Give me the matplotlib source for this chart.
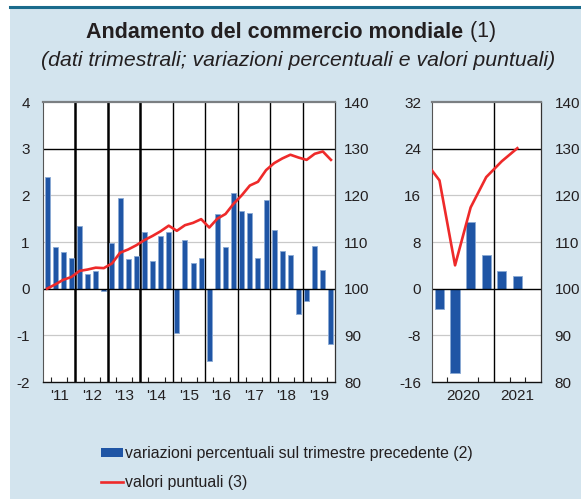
import matplotlib
matplotlib.use("Agg")
import matplotlib.pyplot as plt
from matplotlib.patches import Rectangle, Patch
from matplotlib.lines import Line2D
import numpy as np

plt.rcParams['font.family'] = ['Liberation Sans', 'DejaVu Sans']
plt.rcParams['axes.unicode_minus'] = False

# ---------------- data ----------------
years_left = [2011, 2012, 2013, 2014, 2015, 2016, 2017, 2018, 2019]
year_labels_left = ["'11", "'12", "'13", "'14", "'15", "'16", "'17", "'18", "'19"]
# quarterly % change on previous quarter, 2011Q1-2019Q4
bars_left = [2.4, 0.9, 0.79, 0.66,
             1.34, 0.32, 0.37, -0.04,
             0.97, 1.95, 0.63, 0.69,
             1.22, 0.6, 1.12, 1.22,
             -0.94, 1.04, 0.54, 0.66,
             -1.55, 1.59, 0.9, 2.04,
             1.66, 1.63, 0.65, 1.89,
             1.26, 0.8, 0.73, -0.54,
             -0.27, 0.91, 0.39, -1.19]
# index levels (right scale), 2011Q1-2019Q4
line_left = [100.0, 100.9, 101.9, 102.5,
             103.8, 104.1, 104.5, 104.4,
             105.4, 107.7, 108.4, 109.3,
             110.4, 111.3, 112.3, 113.5,
             112.4, 113.6, 114.1, 114.9,
             113.1, 115.0, 116.0, 118.2,
             120.0, 122.1, 122.9, 125.4,
             126.9, 127.9, 128.7, 128.1,
             127.6, 128.9, 129.4, 127.6]

years_right = [2020, 2021]
year_labels_right = ["2020", "2021"]
# 2020Q1-2021Q2
bars_right = [-3.5, -14.4, 11.5, 5.7, 3.1, 2.2]
# 2019Q4-2021Q2
line_right = [127.6, 123.2, 105.0, 117.4, 123.9, 127.3, 130.1]

legend_labels = ["variazioni percentuali sul trimestre precedente (2)",
                 "valori puntuali (3)"]
title_bold = "Andamento del commercio mondiale"
title_note = "(1)"
subtitle = "(dati trimestrali; variazioni percentuali e valori puntuali)"

# ---------------- style ----------------
W, H = 581, 499
BG = '#d3e4ee'
TEAL = '#1a6b8c'
BLUE = '#1f55a5'
BLUE_EDGE = '#8aa9d4'
RED = '#ee2a2a'
TXT = '#231f20'
GRID = '#c9c9c9'
FS = 11

fig = plt.figure(figsize=(W / 100, H / 100), dpi=100)
fig.patch.set_facecolor('white')
fig.patches.append(Rectangle((10 / W, 0), 1, 1 - 8 / H, transform=fig.transFigure,
                             facecolor=BG, edgecolor='none', zorder=-10))
fig.lines.append(Line2D([10 / W, 1], [1 - 6.5 / H] * 2, transform=fig.transFigure,
                        color=TEAL, lw=2.2))


def qx(year, n):
    return [year + (i + 0.5) / 4 for i in range(n)]


def style_axes(ax, axr):
    ax.set_facecolor('white')
    for s in ['top', 'right', 'left', 'bottom']:
        axr.spines[s].set_visible(False)
    ax.spines['top'].set_color('#7b7f82')
    ax.spines['top'].set_linewidth(1.6)
    ax.spines['left'].set_color('#555555')
    ax.spines['left'].set_linewidth(0.8)
    ax.spines['right'].set_color('#333333')
    ax.spines['right'].set_linewidth(0.9)
    ax.spines['bottom'].set_color('#111111')
    ax.spines['bottom'].set_linewidth(1.0)
    ax.tick_params(axis='y', length=0, labelsize=FS, labelcolor=TXT)
    axr.tick_params(axis='y', length=0, labelsize=FS, labelcolor=TXT)
    ax.tick_params(axis='x', which='major', length=0, labelsize=FS, labelcolor=TXT, pad=5)
    ax.tick_params(axis='x', which='minor', direction='in', length=3.5, width=0.8, color='#222222')


# ---------------- left panel ----------------
ax1 = fig.add_axes([43 / W, 117 / H, 292 / W, 280 / H])
ax1r = ax1.twinx()
ax1.set_xlim(2011, 2020)
ax1.set_ylim(-2, 4)
ax1r.set_ylim(80, 140)
ax1.set_yticks(np.arange(-2, 5, 1))
ax1r.set_yticks(np.arange(80, 141, 10))
style_axes(ax1, ax1r)
ax1.tick_params(axis='y', pad=9.5)
ax1r.tick_params(axis='y', pad=6.5)

for v in [2, 1, -1]:
    ax1.axhline(v, color=GRID, lw=0.9, zorder=0.5)
ax1.axhline(3, color='black', lw=1.0, zorder=0.6)
for y in years_left[1:]:
    ax1.axvline(y, color='black', lw=1.8 if y <= 2014 else 1.0, zorder=0.6)

xq_left = qx(years_left[0], len(bars_left))
ax1.bar(xq_left, bars_left, width=0.155, color=BLUE, edgecolor=BLUE_EDGE,
        linewidth=0.6, zorder=2)
ax1.axhline(0, color='black', lw=1.0, zorder=2.5)
ax1r.plot(xq_left, line_left, color=RED, lw=1.9, zorder=3, solid_joinstyle='round')

ax1.set_xticks([y + 0.5 for y in years_left])
ax1.set_xticklabels(year_labels_left)
ax1.set_xticks([y + q / 4 for y in years_left for q in (1, 2, 3)], minor=True)

# ---------------- right panel ----------------
ax2 = fig.add_axes([431.7 / W, 117 / H, 109 / W, 280 / H])
ax2r = ax2.twinx()
ax2.set_xlim(2020, 2021.75)
ax2.set_ylim(-16, 32)
ax2r.set_ylim(80, 140)
ax2.set_yticks(np.arange(-16, 33, 8))
ax2r.set_yticks(np.arange(80, 141, 10))
style_axes(ax2, ax2r)
ax2.tick_params(axis='y', pad=7.5)
ax2r.tick_params(axis='y', pad=10)

for v in [16, 8, -8]:
    ax2.axhline(v, color=GRID, lw=0.9, zorder=0.5)
ax2.axhline(24, color='black', lw=1.0, zorder=0.6)
ax2.axvline(2021, color='black', lw=1.0, zorder=0.6)

xq_right = qx(years_right[0], len(bars_right))
ax2.bar(xq_right, bars_right, width=0.15, color=BLUE, edgecolor=BLUE_EDGE,
        linewidth=0.6, zorder=2)
ax2.axhline(0, color='black', lw=1.0, zorder=2.5)
xl_right = [years_right[0] - 0.125] + xq_right
ax2r.plot(xl_right, line_right, color=RED, lw=1.9, zorder=3, solid_joinstyle='round')

ax2.set_xticks([2020.5, 2021.375])
ax2.set_xticklabels(year_labels_right)
ax2.set_xticks([2020.25, 2020.5, 2020.75, 2021.25, 2021.5], minor=True)

# ---------------- titles ----------------
fig.canvas.draw()
r = fig.canvas.get_renderer()
t1 = fig.text(0, 1 - 32 / H, title_bold, fontsize=15.5, fontweight='bold',
              color=TXT, ha='left', va='center')
t2 = fig.text(0, 1 - 32 / H, " " + title_note, fontsize=15.5, color=TXT,
              ha='left', va='center')
w1 = t1.get_window_extent(r).width
w2 = t2.get_window_extent(r).width
x0 = 291 - (w1 + w2) / 2
t1.set_x(x0 / W)
t2.set_x((x0 + w1) / W)
fig.text(298 / W, 1 - 61 / H, subtitle, fontsize=15.3, style='italic', color=TXT,
         ha='center', va='center')

# ---------------- legend ----------------
handles = [Patch(facecolor=BLUE, edgecolor='none'),
           Line2D([0], [0], color=RED, lw=1.9)]
fig.legend(handles, legend_labels, loc='upper left',
           bbox_to_anchor=(87 / W, 1 - 432 / H), frameon=False, fontsize=11.4,
           handlelength=1.4, handleheight=0.5, handletextpad=0.1,
           labelspacing=0.85, labelcolor=TXT)

fig.savefig('out.png', dpi=100, facecolor=fig.get_facecolor())
